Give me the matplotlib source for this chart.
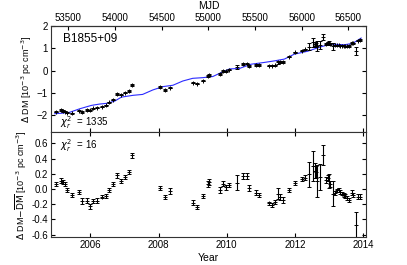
import matplotlib
matplotlib.use('Agg')
import matplotlib.pyplot as plt
import numpy as np

plt.rcParams['font.family'] = ['Liberation Sans', 'DejaVu Sans']
plt.rcParams['mathtext.fontset'] = 'dejavusans'

# epochs (year) shared by both panels
years = [2004.98, 2005.15, 2005.21, 2005.26, 2005.32, 2005.47, 2005.67, 2005.75, 2005.90, 2005.98,
         2006.09, 2006.18, 2006.34, 2006.45, 2006.54, 2006.66, 2006.77, 2006.89, 2007.01, 2007.13,
         2007.23,
         2008.05, 2008.18, 2008.32, 2008.995, 2009.13, 2009.30, 2009.46, 2009.49, 2009.81, 2009.88,
         2009.98, 2010.06, 2010.31, 2010.48, 2010.58, 2010.66, 2010.87, 2010.93,
         2011.25, 2011.33, 2011.41, 2011.50, 2011.57, 2011.66, 2011.83, 2012.01, 2012.21, 2012.30,
         2012.41, 2012.54, 2012.58, 2012.61, 2012.66, 2012.72, 2012.81, 2012.90, 2012.96, 2013.00,
         2013.04, 2013.12, 2013.18, 2013.23, 2013.28, 2013.33, 2013.38, 2013.43, 2013.48, 2013.53,
         2013.59, 2013.66, 2013.71, 2013.79, 2013.84, 2013.90]

# top panel: Delta DM
dm = [-1.84, -1.76, -1.80, -1.83, -1.88, -1.90, -1.78, -1.86, -1.75, -1.77,
      -1.68, -1.65, -1.60, -1.55, -1.42, -1.29, -1.04, -1.07, -0.98, -0.90,
      -0.65,
      -0.73, -0.86, -0.76, -0.53, -0.58, -0.44, -0.23, -0.19, -0.13, -0.01,
      -0.03, 0.04, 0.17, 0.29, 0.32, 0.22, 0.26, 0.26,
      0.22, 0.22, 0.24, 0.38, 0.40, 0.40, 0.62, 0.82, 0.90, 0.95,
      1.07, 1.27, 1.20, 1.16, 1.10, 1.15, 1.52, 1.20, 1.25, 1.22,
      1.19, 1.09, 1.13, 1.13, 1.14, 1.12, 1.12, 1.11, 1.10, 1.09,
      1.10, 1.24, 1.22, 0.89, 1.34, 1.37]

# bottom panel: residuals
resid = [0.06, 0.11, 0.09, 0.06, -0.01, -0.08, -0.04, -0.16, -0.155, -0.23,
         -0.155, -0.155, -0.10, -0.095, -0.01, 0.065, 0.18, 0.105, 0.16, 0.22,
         0.44,
         0.01, -0.11, -0.025, -0.18, -0.24, -0.095, 0.07, 0.09, -0.01, 0.07,
         0.02, 0.055, 0.08, 0.17, 0.17, 0.01, -0.05, -0.08,
         -0.19, -0.21, -0.17, -0.06, -0.11, -0.145, -0.01, 0.08, 0.13, 0.15,
         0.19, 0.30, 0.24, 0.22, 0.11, 0.16, 0.445, 0.12, 0.14, 0.10,
         0.07, -0.06, -0.05, -0.02, -0.01, -0.04, -0.06, -0.08, -0.09, -0.12,
         -0.145, -0.05, -0.08, -0.47, -0.10, -0.10]

err = [0.025, 0.03, 0.025, 0.025, 0.025, 0.025, 0.03, 0.04, 0.03, 0.03,
       0.025, 0.03, 0.025, 0.025, 0.025, 0.025, 0.03, 0.025, 0.025, 0.03,
       0.035,
       0.025, 0.025, 0.035, 0.03, 0.025, 0.025, 0.04, 0.035, 0.04, 0.035,
       0.035, 0.025, 0.10, 0.04, 0.04, 0.04, 0.03, 0.03,
       0.025, 0.025, 0.03, 0.07, 0.04, 0.04, 0.025, 0.03, 0.03, 0.03,
       0.16, 0.20, 0.10, 0.08, 0.21, 0.17, 0.13, 0.04, 0.04, 0.09,
       0.04, 0.17, 0.025, 0.025, 0.025, 0.025, 0.025, 0.025, 0.025, 0.03,
       0.03, 0.03, 0.03, 0.17, 0.03, 0.03]

# model curve (blue line)
model_years = [2004.955, 2005.16, 2005.39, 2005.69, 2006.03, 2006.27, 2006.47, 2006.71, 2006.91,
               2007.25, 2007.53, 2007.83, 2008.13, 2008.42, 2008.71, 2009.00, 2009.30, 2009.59,
               2009.84, 2010.08, 2010.37, 2010.71, 2011.10, 2011.40, 2011.69, 2011.98, 2012.37,
               2012.76, 2013.06, 2013.45, 2013.69, 2013.94]
model_dm = [-1.92, -1.90, -1.86, -1.70, -1.55, -1.49, -1.46, -1.36, -1.18,
            -1.10, -1.06, -0.86, -0.71, -0.65, -0.46, -0.34, -0.31, -0.26,
            -0.08, 0.08, 0.10, 0.29, 0.37, 0.44, 0.52, 0.74, 0.87,
            1.07, 1.19, 1.16, 1.22, 1.46]

mjd_ticks = [53500, 54000, 54500, 55000, 55500, 56000, 56500]
year_ticks = [2006, 2008, 2010, 2012, 2014]


def year2mjd(y):
    return 53736.0 + (np.asarray(y) - 2006.0) * 365.25


def mjd2year(m):
    return 2006.0 + (np.asarray(m) - 53736.0) / 365.25


fig = plt.figure(figsize=(4.07, 2.65), dpi=100)
ax1 = fig.add_axes([0.125, 0.501, 0.774, 0.401])
ax2 = fig.add_axes([0.125, 0.1045, 0.774, 0.3965], sharex=ax1)

ebkw = dict(fmt='+', color='black', ms=3, mew=0.7, elinewidth=0.8, capsize=1.5, capthick=0.6)

ax1.plot(model_years, model_dm, color='#2b2bff', lw=0.8, zorder=1)
ax1.errorbar(years, dm, yerr=err, **ebkw, zorder=2)
ax1.set_ylim(-2.75, 2)
ax1.set_yticks([2, 1, 0, -1, -2])
ax1.set_ylabel(r'$\Delta$ DM [10$^{-3}$ pc cm$^{-3}$]', fontsize=6.5, labelpad=2)
ax1.text(0.04, 0.88, 'B1855+09', transform=ax1.transAxes, fontsize=8.5, va='center')
ax1.text(0.03, 0.09, r'$\chi_r^2$  = 1335', transform=ax1.transAxes, fontsize=7, va='center')
ax1.tick_params(labelbottom=False)

top = ax1.secondary_xaxis('top', functions=(year2mjd, mjd2year))
top.set_xticks(mjd_ticks)
top.set_xlabel('MJD', fontsize=7.5, labelpad=3)
top.tick_params(direction='in', labelsize=7, length=3, pad=2)

ax2.errorbar(years, resid, yerr=err, **ebkw)
ax2.set_ylim(-0.635, 0.745)
ax2.set_yticks([0.6, 0.4, 0.2, 0.0, -0.2, -0.4, -0.6])
ax2.set_yticklabels(['%.1f' % v for v in [0.6, 0.4, 0.2, 0.0, -0.2, -0.4, -0.6]])
ax2.set_ylabel(r'$\Delta$ DM$-\overline{\rm DM}$ [10$^{-3}$ pc cm$^{-3}$]', fontsize=6.5, labelpad=2)
ax2.text(0.03, 0.87, r'$\chi_r^2$  = 16', transform=ax2.transAxes, fontsize=7, va='center')
ax2.set_xlim(2004.84, 2014.08)
ax2.set_xticks(year_ticks)
ax2.set_xlabel('Year', fontsize=7.5, labelpad=2)

for ax in (ax1, ax2):
    ax.tick_params(direction='in', top=True, right=True, labelsize=7, length=3, pad=2)
    for s in ax.spines.values():
        s.set_linewidth(0.8)
        s.set_color('#333333')
ax1.tick_params(top=False)

fig.savefig('out.png', dpi=100)
